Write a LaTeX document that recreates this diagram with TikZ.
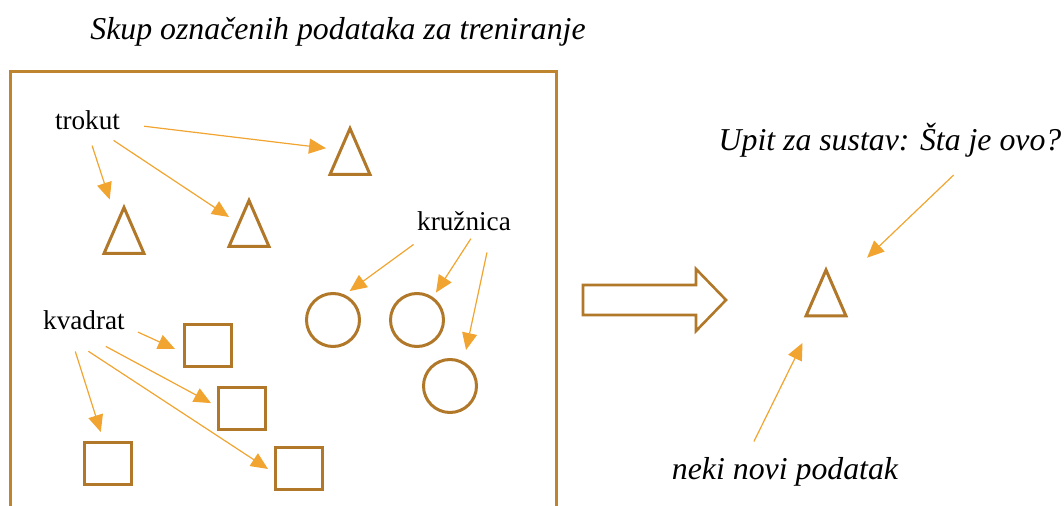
\documentclass[tikz,border=0pt]{standalone}
\usepackage{fontspec}
\setmainfont{Liberation Serif}
\usetikzlibrary{arrows.meta}
\definecolor{framebrown}{RGB}{190,132,46}
\definecolor{shapebrown}{RGB}{176,120,40}
\definecolor{pointerorange}{RGB}{241,164,48}

\begin{document}
\begin{tikzpicture}[
    x=0.5pt, y=-0.5pt,
    word/.style={inner sep=0pt, font=\fontsize{13.6}{16}\selectfont},
    note/.style={inner sep=0pt, font=\fontsize{15.9}{19}\selectfont\itshape},
    trishape/.style={inner sep=0pt, outer sep=0pt, minimum width=20pt, minimum height=23pt},
    sqshape/.style={rectangle, draw=shapebrown, line width=1.5pt, inner sep=0pt, minimum width=23.5pt, minimum height=21pt},
    circshape/.style={circle, draw=shapebrown, line width=1.5pt, inner sep=0pt, minimum size=26.5pt},
    shapeline/.style={draw=shapebrown, line width=1.5pt, line join=miter},
    arrow/.style={-{Triangle[length=8.5pt, width=7.5pt]}, line width=0.6pt, draw=pointerorange}
]
    \useasboundingbox (0,0) rectangle (1064,506);
    \draw [shapeline, draw=framebrown] (10,506) -- (10,72) -- (556,72) -- (556,506);
    \node (title) [note] at (338,32) {Skup označenih podataka za treniranje};
    \node (trokut) [word] at (87.5,120.5) {trokut};
    \node (kruznica) [word] at (464,221.5) {kružnica};
    \node (kvadrat) [word] at (84,320.5) {kvadrat};
    \node (t1) [trishape] at (350,151.5) {};
    \node (t2) [trishape] at (124,230.5) {};
    \node (t3) [trishape] at (249,223.5) {};
    \node (c1) [circshape] at (333,320) {};
    \node (c2) [circshape] at (417,320) {};
    \node (c3) [circshape] at (450,386) {};
    \node (s1) [sqshape] at (208,345.5) {};
    \node (s2) [sqshape] at (242,408.5) {};
    \node (s3) [sqshape] at (108,463.5) {};
    \node (s4) [sqshape] at (299,468.5) {};
    \node (query) [note] at (890,140) {Upit za sustav: Šta je ovo?};
    \node (unknown) [trishape] at (826,293) {};
    \node (newdata) [note] at (785,471.6) {neki novi podatak};
    \draw [shapeline] (t1.north) -- (t1.south east) -- (t1.south west) -- cycle;
    \draw [shapeline] (t2.north) -- (t2.south east) -- (t2.south west) -- cycle;
    \draw [shapeline] (t3.north) -- (t3.south east) -- (t3.south west) -- cycle;
    \draw [shapeline] (unknown.north) -- (unknown.south east) -- (unknown.south west) -- cycle;
    \draw [shapeline, line width=1.3pt] (583,285) -- (696,285) -- (696,269) -- (726,300) -- (696,331) -- (696,315) -- (583,315) -- cycle;
    \draw [arrow, shorten <=12pt, shorten >=2pt] (trokut.355) -- (t1.172);
    \draw [arrow, shorten <=8pt, shorten >=4.2pt] (trokut.268) -- (t2.117);
    \draw [arrow, shorten <=9pt] (trokut.318) -- (t3.162);
    \draw [arrow, shorten <=11pt, shorten >=3pt] (kruznica.197) -- (c1.65);
    \draw [arrow, shorten <=4.3pt, shorten >=2.7pt] (kruznica.319) -- (c2.55);
    \draw [arrow, shorten <=10.7pt, shorten >=5.9pt] (kruznica.340) -- (c3.61);
    \draw [arrow, shorten <=7pt, shorten >=4.4pt] (kvadrat.352) -- (s1.196);
    \draw [arrow, shorten <=16.8pt, shorten >=3.4pt] (kvadrat.232) -- (s2.175);
    \draw [arrow, shorten <=11pt, shorten >=4.7pt] (kvadrat.213) -- (s3.101);
    \draw [arrow, shorten <=19pt, shorten >=3.6pt] (kvadrat.200) -- (s4.190);
    \draw [arrow, shorten <=12.7pt, shorten >=14.6pt] (query.348) -- (unknown.37);
    \draw [arrow, shorten <=8.5pt, shorten >=15pt] (newdata.159) -- (unknown.246);
\end{tikzpicture}
\end{document}
